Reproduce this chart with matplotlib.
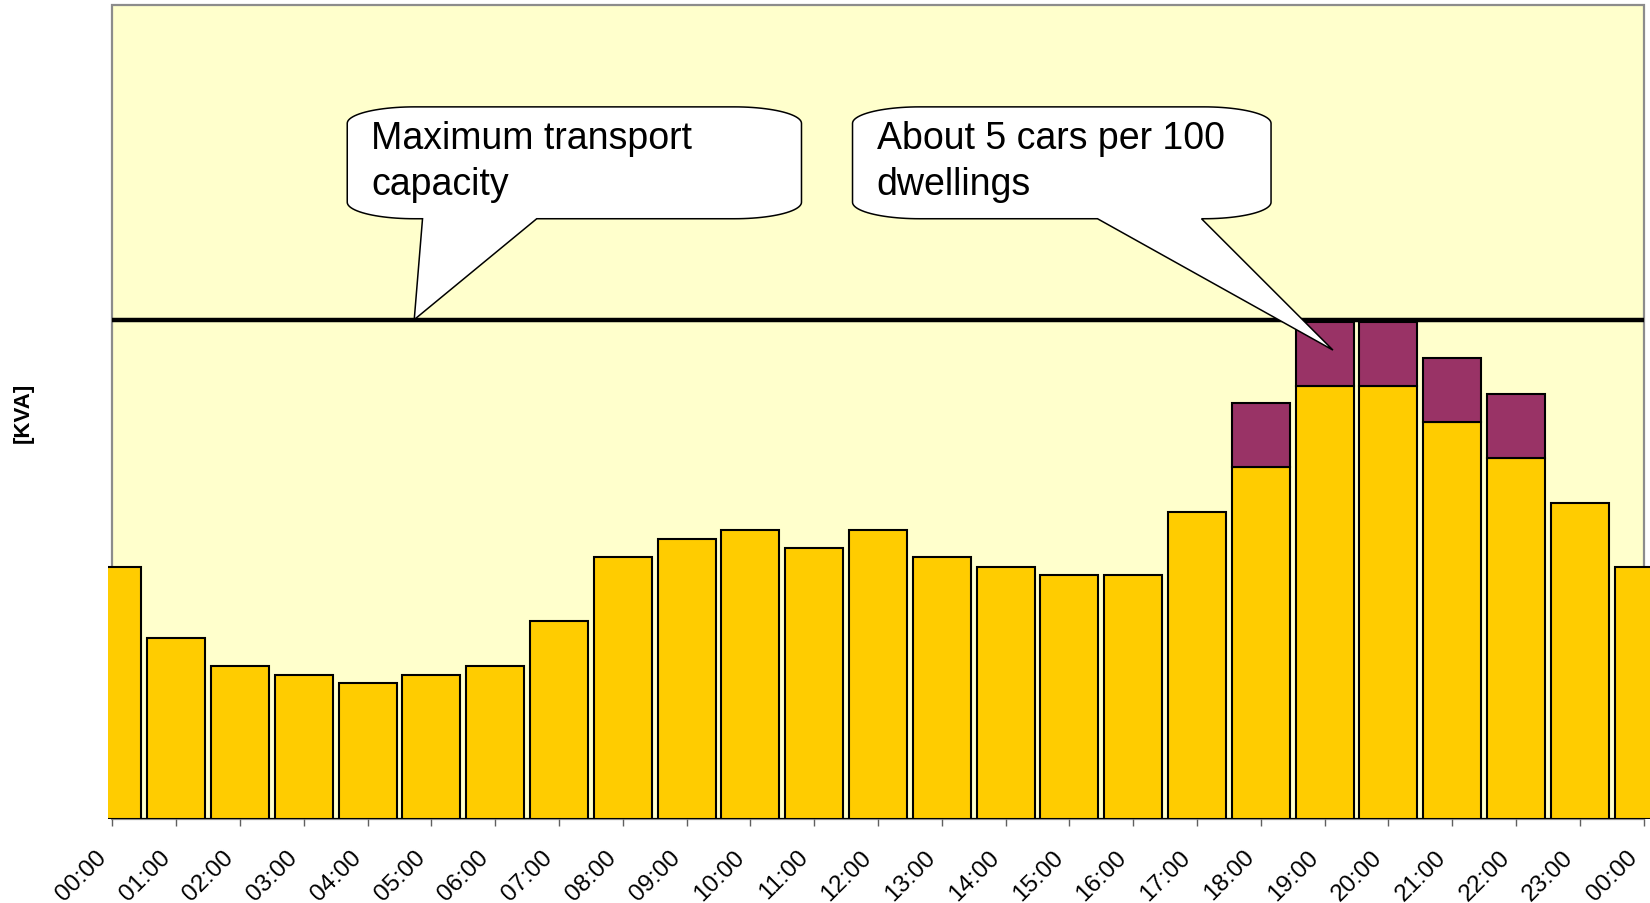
import numpy as np
import matplotlib
matplotlib.use("Agg")
import matplotlib.pyplot as plt
from matplotlib.patches import Rectangle, PathPatch
from matplotlib.path import Path
from matplotlib.transforms import ScaledTranslation

plt.rcParams['font.family'] = ['Liberation Sans', 'DejaVu Sans']

# hourly labels, 00:00 .. 23:00 and back to 00:00
hours = ["%02d:00" % h for h in range(24)] + ["00:00"]

# base household load (capacity = 100)
base_load = [50.5, 36.2, 30.7, 28.8, 27.2, 28.8, 30.7, 39.7, 52.4, 56.1,
             57.9, 54.2, 57.9, 52.4, 50.5, 48.8, 48.8, 61.5, 70.5, 86.7,
             86.7, 79.5, 72.3, 63.2, 50.5]
# extra load from electric cars
ev_load = [0, 0, 0, 0, 0, 0, 0, 0, 0, 0,
           0, 0, 0, 0, 0, 0, 0, 0, 12.8, 12.8,
           12.8, 12.8, 12.8, 0, 0]
capacity = 100

# callouts: text lines, box (x0, x1, y0, y1), wedge base (xa, xb), tip (x, y)
callouts = [
    (["Maximum transport", "capacity"], (3.68, 10.80, 120.2, 142.6), (4.86, 6.65), (4.73, capacity)),
    (["About 5 cars per 100", "dwellings"], (11.60, 18.16, 120.2, 142.6), (15.44, 17.07), (19.13, 93.9)),
]

yellow = '#FFCC00'
purple = '#993366'
bg = '#FFFFCC'

fig = plt.figure(figsize=(16.5, 9.04), dpi=100)
ax = fig.add_axes([108 / 1650, 1 - 820 / 904, 1 - 108 / 1650, 814 / 904])
ax.set_xlim(-0.07, 24.1)
ax.set_ylim(0, 163)
for s in ax.spines.values():
    s.set_visible(False)

# plot area background with grey border
ax.add_patch(Rectangle((0, 0), 24, 163, facecolor=bg, edgecolor='#8c8c8c', lw=1.6, zorder=0, clip_on=False))
ax.hlines(0, 0, 24, color='black', lw=1.5, zorder=1)

x = np.arange(len(hours))
ax.bar(x, base_load, width=0.91, color=yellow, edgecolor='black', lw=1.5, zorder=2)
ev = np.array(ev_load)
mask = ev > 0
ax.bar(x[mask], ev[mask], bottom=np.array(base_load)[mask], width=0.91,
       color=purple, edgecolor='black', lw=1.5, zorder=2)

ax.hlines(capacity, 0, 24, color='black', lw=3.2, zorder=3)

# speech-bubble callouts with elliptical corners
rx, ry = 1.05, 3.3
for lines, (x0, x1, y0, y1), (xa, xb), (tx, ty) in callouts:
    t = np.linspace(0, np.pi / 2, 24)
    pts = [(xa, y0), (tx, ty), (xb, y0)]
    # bottom-right corner
    for a in t:
        pts.append((x1 - rx + rx * np.sin(a), y0 + ry - ry * np.cos(a)))
    # top-right corner
    for a in t:
        pts.append((x1 - rx + rx * np.cos(a), y1 - ry + ry * np.sin(a)))
    # top-left corner
    for a in t:
        pts.append((x0 + rx - rx * np.sin(a), y1 - ry + ry * np.cos(a)))
    # bottom-left corner
    for a in t:
        pts.append((x0 + rx - rx * np.cos(a), y0 + ry - ry * np.sin(a)))
    pts.append((xa, y0))
    path = Path(pts, closed=True)
    ax.add_patch(PathPatch(path, facecolor='white', edgecolor='black', lw=1.1, zorder=4))
    ax.text(x0 + 0.38, 134.3, lines[0], fontsize=27, va='baseline', ha='left', zorder=5)
    ax.text(x0 + 0.38, 125.2, lines[1], fontsize=27, va='baseline', ha='left', zorder=5)

ax.set_yticks([])
ax.set_xticks(x)
ax.set_xticklabels(hours, rotation=45, ha='right', va='top', fontsize=17.5)
ax.tick_params(axis='x', length=5, width=1, color='#606060', pad=14)
offset = ScaledTranslation(-0.02, 0, fig.dpi_scale_trans)
for lab in ax.get_xticklabels():
    lab.set_transform(lab.get_transform() + offset)

fig.text(23.5 / 1650, 1 - 413 / 904, "[KVA]", rotation=90, fontsize=16, fontweight='bold',
         ha='center', va='center')

fig.savefig("out.png", dpi=100, facecolor='white')
